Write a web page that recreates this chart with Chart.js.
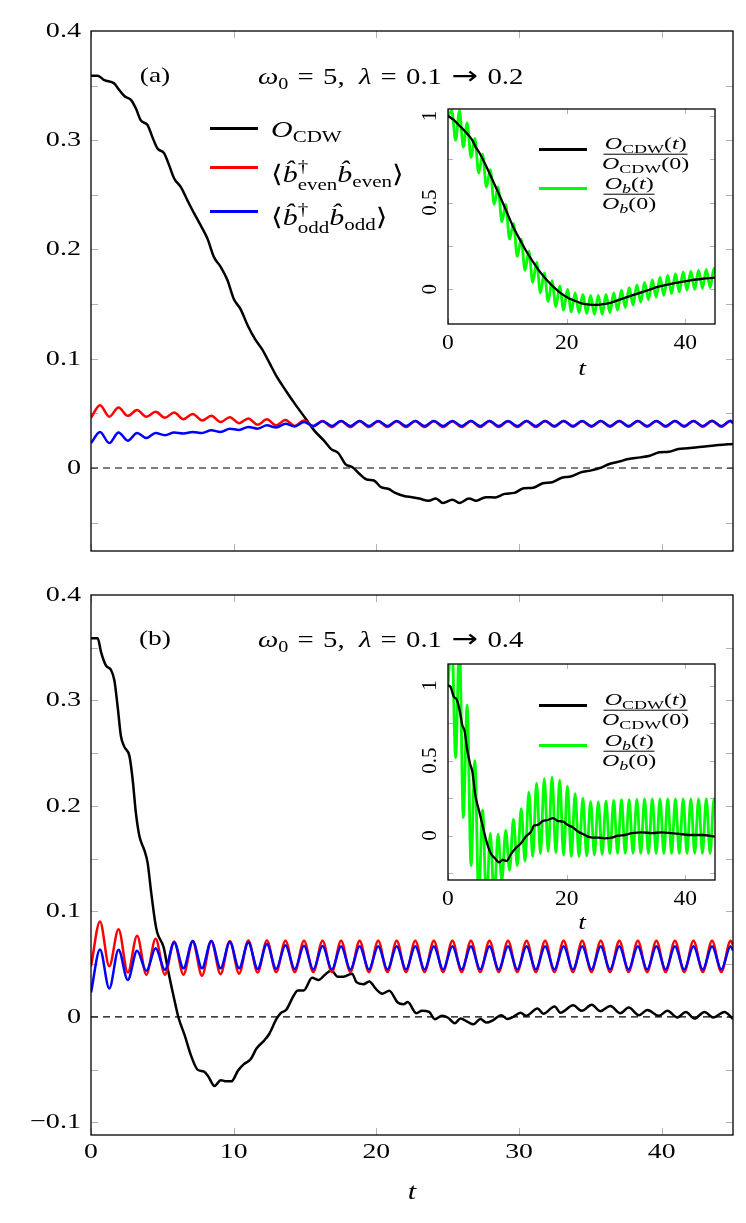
<!DOCTYPE html>
<html>
<head>
<meta charset="utf-8">
<script src="https://cdn.jsdelivr.net/npm/chart.js@4.4.0/dist/chart.umd.min.js"></script>
<style>
  html, body { margin: 0; padding: 0; background: #fff; }
  #page { position: relative; width: 746px; height: 1223px; overflow: hidden;
          font-family: "Liberation Serif", "DejaVu Serif", serif; color: #000; }
  canvas { position: absolute; }
  .txt { position: absolute; white-space: nowrap; line-height: 1;
         transform-origin: 0 50%; transform: translateY(-50%) scaleX(1.25); }
  .ctr { transform-origin: 50% 50%; transform: translate(-50%, -50%) scaleX(1.25); }
  sub { font-size: 0.7em; vertical-align: baseline; position: relative; top: 0.32em; line-height: 0; }
  .ss { display: inline-block; vertical-align: -0.5em; font-size: 0.7em; line-height: 1.05; }
  .ss > span { display: block; }
  .op { margin: 0 0.32em; }
  .arr { font-family: "DejaVu Sans", sans-serif; font-size: 1.1em; margin: 0 0.3em; }
  .key { position: absolute; height: 2.6px; }
  .fr { transform: translateY(-50%) scaleX(1.5); }
  .frac { display: inline-flex; flex-direction: column; align-items: center; font-size: 16px; line-height: 1.05; }
  .frac sub { font-size: 0.75em; }
  .frac .num { border-bottom: 1px solid #000; padding: 0 1px 1px; }
  .frac .den { padding-top: 1px; }
</style>
</head>
<body>
<div id="page">
  <canvas id="mainA" width="746" height="560" style="left:0;top:0"></canvas>
  <canvas id="mainB" width="746" height="663" style="left:0;top:560px"></canvas>
  <canvas id="insetA" width="305" height="280" style="left:420px;top:100px"></canvas>
  <canvas id="insetB" width="305" height="280" style="left:420px;top:655px"></canvas>

  <!-- panel (a) annotations -->
  <div class="txt ctr" style="left:155px;top:75px;font-size:22px">(a)</div>
  <div class="txt" style="left:258px;top:76px;font-size:23px"><i>ω</i><sub>0</sub><span class="op">=</span>5,&nbsp;&nbsp;<i>λ</i><span class="op">=</span>0.1<span class="arr">→</span>0.2</div>
  <div class="key" style="left:210px;top:127px;width:48px;background:#000"></div>
  <div class="key" style="left:210px;top:166px;width:48px;background:#f00"></div>
  <div class="key" style="left:210px;top:210px;width:48px;background:#00f"></div>
  <div class="txt" style="left:271px;top:129px;font-size:24px"><i>O</i><sub>CDW</sub></div>
  <div class="txt" style="left:271px;top:176px;font-size:24px">⟨<i>b̂</i><span class="ss"><span>†</span><span>even</span></span><i>b̂</i><sub>even</sub>⟩</div>
  <div class="txt" style="left:271px;top:219px;font-size:24px">⟨<i>b̂</i><span class="ss"><span>†</span><span>odd</span></span><i>b̂</i><sub>odd</sub>⟩</div>

  <div class="key" style="left:539px;top:148px;width:48px;background:#000"></div>
  <div class="key" style="left:539px;top:187px;width:48px;background:#0f0;height:3px"></div>
  <div class="txt fr" style="left:602px;top:154px"><span class="frac"><span class="num"><i>O</i><sub>CDW</sub>(<i>t</i>)</span><span class="den"><i>O</i><sub>CDW</sub>(0)</span></span></div>
  <div class="txt fr" style="left:602px;top:194px"><span class="frac"><span class="num"><i>O</i><sub><i>b</i></sub>(<i>t</i>)</span><span class="den"><i>O</i><sub><i>b</i></sub>(0)</span></span></div>
  <div class="txt ctr" style="left:582px;top:368px;font-size:22px"><i>t</i></div>

  <!-- panel (b) annotations -->
  <div class="txt ctr" style="left:155px;top:638px;font-size:22px">(b)</div>
  <div class="txt" style="left:258px;top:639px;font-size:23px"><i>ω</i><sub>0</sub><span class="op">=</span>5,&nbsp;&nbsp;<i>λ</i><span class="op">=</span>0.1<span class="arr">→</span>0.4</div>

  <div class="key" style="left:539px;top:704px;width:48px;background:#000"></div>
  <div class="key" style="left:539px;top:744px;width:48px;background:#0f0;height:3px"></div>
  <div class="txt fr" style="left:602px;top:710px"><span class="frac"><span class="num"><i>O</i><sub>CDW</sub>(<i>t</i>)</span><span class="den"><i>O</i><sub>CDW</sub>(0)</span></span></div>
  <div class="txt fr" style="left:602px;top:751px"><span class="frac"><span class="num"><i>O</i><sub><i>b</i></sub>(<i>t</i>)</span><span class="den"><i>O</i><sub><i>b</i></sub>(0)</span></span></div>
  <div class="txt ctr" style="left:582px;top:922px;font-size:22px"><i>t</i></div>

  <div class="txt ctr" style="left:412px;top:1191px;font-size:24px"><i>t</i></div>
</div>

<script>
// ---- shared time grid for the fast oscillations (peaks / troughs) ----
const tOsc = [0, 0.63, 1.28, 1.93, 2.58, 3.23, 3.88, 4.53, 5.18, 5.83,
  6.48, 7.13, 7.78, 8.43, 9.08, 9.73, 10.38, 11.03, 11.68, 12.33,
  12.98, 13.63, 14.28, 14.93, 15.58, 16.23, 16.88, 17.53, 18.18, 18.83,
  19.48, 20.13, 20.78, 21.43, 22.08, 22.73, 23.38, 24.03, 24.68, 25.33,
  25.98, 26.63, 27.28, 27.93, 28.58, 29.23, 29.88, 30.53, 31.18, 31.83,
  32.48, 33.13, 33.78, 34.43, 35.08, 35.73, 36.38, 37.03, 37.68, 38.33,
  38.98, 39.63, 40.28, 40.93, 41.58, 42.23, 42.88, 43.53, 44.18, 44.83,
  45];

// ---- panel (a): lambda 0.1 -> 0.2 ----
const cdwA_t = [0, 0.47, 0.93, 1.63, 1.98, 2.38, 2.8, 3.15, 3.5, 3.96,
  4.3, 4.66, 5.13, 5.48, 5.83, 6.3, 6.76, 7.23, 7.69, 8.16,
  8.62, 9.09, 9.56, 10.0, 10.5, 11.0, 11.5, 12.0, 12.5, 13.0,
  13.67, 14.33, 15.0, 15.67, 16.33, 16.83, 17.33, 17.83, 18.33, 18.83,
  19.33, 19.83, 20.33, 20.83, 21.33, 22.0, 22.5, 23.0, 23.67, 24.17,
  24.67, 25.33, 25.83, 26.5, 27.0, 27.67, 28.33, 29.0, 29.67, 30.33,
  31.0, 31.67, 32.33, 33.0, 33.67, 34.33, 35.0, 35.67, 36.33, 37.0,
  37.67, 38.5, 39.17, 39.83, 40.5, 41.17, 41.83, 42.5, 43.17, 44.0,
  45];
const cdwA = [0.359, 0.359, 0.355, 0.352, 0.346, 0.340, 0.337, 0.329, 0.318, 0.314,
  0.303, 0.2925, 0.288, 0.277, 0.265, 0.257, 0.245, 0.233, 0.222, 0.210,
  0.193, 0.184, 0.172, 0.155, 0.145, 0.130, 0.118, 0.1085, 0.0964, 0.084,
  0.0705, 0.058, 0.046, 0.034, 0.025, 0.0173, 0.0137, 0.0036, 0.0006, -0.0055,
  -0.0106, -0.0115, -0.0176, -0.019, -0.0228, -0.0258, -0.0267, -0.028, -0.030, -0.028,
  -0.032, -0.029, -0.032, -0.028, -0.030, -0.0267, -0.027, -0.0237, -0.0228, -0.0185,
  -0.018, -0.014, -0.013, -0.009, -0.0076, -0.004, -0.0024, 0, 0.0036, 0.0058,
  0.0082, 0.0097, 0.0112, 0.0143, 0.0149, 0.0173, 0.018, 0.019, 0.0198, 0.021,
  0.022];
const evenA = [0.046, 0.0574, 0.047, 0.0553, 0.0477, 0.053, 0.0468, 0.0514, 0.046, 0.0508,
  0.0447, 0.0495, 0.0435, 0.0477, 0.042, 0.0465, 0.041, 0.0453, 0.0395, 0.0445,
  0.039, 0.044, 0.0385, 0.0435, 0.038, 0.043, 0.0375, 0.043, 0.0375, 0.043,
  0.0375, 0.0428, 0.0375, 0.0428, 0.0375, 0.043, 0.0375, 0.043, 0.0375, 0.0428,
  0.0375, 0.043, 0.0375, 0.043, 0.0375, 0.0428, 0.0375, 0.043, 0.0375, 0.043,
  0.0378, 0.043, 0.0378, 0.0428, 0.0378, 0.043, 0.0378, 0.043, 0.0378, 0.043,
  0.0378, 0.043, 0.0378, 0.043, 0.0378, 0.043, 0.0378, 0.0432, 0.0378, 0.0432,
  0.041];
const oddA = [0.0228, 0.033, 0.0228, 0.0325, 0.025, 0.032, 0.0274, 0.032, 0.030, 0.0325,
  0.0316, 0.033, 0.032, 0.0345, 0.033, 0.036, 0.0348, 0.0375, 0.036, 0.039,
  0.037, 0.0405, 0.038, 0.042, 0.0385, 0.0428, 0.0385, 0.043, 0.0385, 0.043,
  0.0385, 0.043, 0.0385, 0.043, 0.0385, 0.043, 0.0385, 0.043, 0.0385, 0.043,
  0.0385, 0.043, 0.0385, 0.043, 0.0385, 0.043, 0.0385, 0.043, 0.0385, 0.043,
  0.0385, 0.043, 0.0385, 0.043, 0.0385, 0.043, 0.0385, 0.043, 0.0385, 0.043,
  0.0385, 0.043, 0.0385, 0.043, 0.0385, 0.043, 0.0385, 0.043, 0.0385, 0.043,
  0.041];
// inset (a): normalised order parameters
const normCdwA_t = [0, 0.96, 1.8, 2.66, 3.5, 4.07, 4.64, 5.5, 6.6, 7.75,
  8.9, 10.0, 11.1, 12.3, 13.4, 14.5, 15.7, 16.8, 17.9, 19.1,
  20.2, 21.3, 22.5, 23.6, 24.7, 25.9, 27.0, 28.7, 30.4, 32.1,
  33.8, 35.5, 37.2, 38.9, 40.6, 42.3, 45];
const normCdwA = [1.0, 0.977, 0.948, 0.919, 0.887, 0.862, 0.823, 0.775, 0.698, 0.612,
  0.525, 0.438, 0.352, 0.275, 0.208, 0.15, 0.092, 0.048, 0.01, -0.025,
  -0.048, -0.065, -0.081, -0.087, -0.09, -0.087, -0.081, -0.062, -0.042, -0.023,
  -0.004, 0.015, 0.029, 0.04, 0.05, 0.058, 0.067];
const normBA = [1.0, 1.03, 0.86, 1.03, 0.82, 0.96, 0.76, 0.87, 0.67, 0.78,
  0.59, 0.69, 0.49, 0.59, 0.39, 0.49, 0.29, 0.38, 0.19, 0.29,
  0.11, 0.22, 0.04, 0.155, -0.02, 0.095, -0.07, 0.05, -0.10, 0.02,
  -0.12, 0.0, -0.13, -0.02, -0.135, -0.03, -0.14, -0.035, -0.145, -0.035,
  -0.145, -0.03, -0.135, -0.02, -0.12, -0.005, -0.105, 0.01, -0.09, 0.025,
  -0.075, 0.04, -0.06, 0.055, -0.045, 0.07, -0.035, 0.08, -0.025, 0.09,
  -0.015, 0.10, -0.005, 0.105, 0.0, 0.11, 0.005, 0.115, 0.01, 0.12,
  0.09];

// ---- panel (b): lambda 0.1 -> 0.4 ----
const cdwB_t = [0, 0.47, 0.7, 1.05, 1.4, 1.64, 1.87, 2.1, 2.34, 2.7,
  2.92, 3.15, 3.4, 3.74, 3.97, 4.2, 4.5, 4.64, 5.09, 5.39,
  5.83, 6.13, 6.58, 7.02, 7.47, 7.92, 8.2, 8.66, 9.1, 9.4,
  9.85, 10.3, 10.7, 11.2, 11.6, 12.1, 12.5, 13.0, 13.3, 13.7,
  14.2, 14.5, 14.9, 15.5, 15.95, 16.4, 16.85, 17.3, 17.7, 18.3,
  18.6, 19.1, 19.5, 20.0, 20.4, 20.9, 21.5, 21.9, 22.2, 22.8,
  23.2, 23.7, 24.1, 24.6, 25.0, 25.5, 25.9, 26.4, 26.8, 27.3,
  27.7, 28.2, 28.75, 29.2, 29.6, 30.1, 30.5, 31.3, 31.7, 32.5,
  32.9, 33.8, 34.4, 35.1, 35.7, 36.4, 37.1, 37.7, 38.4, 39.0,
  39.8, 40.4, 41.1, 41.7, 42.3, 43.0, 43.6, 44.4, 45];
const cdwB = [0.359, 0.359, 0.346, 0.333, 0.329, 0.319, 0.294, 0.266, 0.256, 0.247,
  0.225, 0.193, 0.171, 0.158, 0.146, 0.120, 0.0896, 0.080, 0.066, 0.045,
  0.017, -0.0006, -0.018, -0.037, -0.050, -0.052, -0.056, -0.0655, -0.060, -0.061,
  -0.061, -0.051, -0.045, -0.040, -0.030, -0.023, -0.016, -0.002, 0.0035, 0.007,
  0.020, 0.025, 0.025, 0.037, 0.035, 0.040, 0.044, 0.038, 0.038, 0.041,
  0.033, 0.031, 0.0335, 0.026, 0.022, 0.0247, 0.0136, 0.012, 0.014, 0.0035,
  0.0057, 0.0047, -0.0022, 0.001, -0.0006, -0.006, -0.0016, -0.0047, -0.007, -0.002,
  -0.0054, -0.003, 0.0016, -0.002, 0.0, 0.004, 0.001, 0.008, 0.003, 0.0098,
  0.004, 0.011, 0.0057, 0.0114, 0.0054, 0.0104, 0.0035, 0.0089, 0.0016, 0.0066,
  0.001, 0.0057, -0.0006, 0.0047, -0.0016, 0.0047, -0.0006, 0.0047, -0.002];
const evenB = [0.048, 0.0905, 0.048, 0.083, 0.042, 0.077, 0.040, 0.074, 0.040, 0.0715,
  0.040, 0.0715, 0.039, 0.072, 0.0405, 0.072, 0.041, 0.0725, 0.042, 0.0725,
  0.0425, 0.0722, 0.0425, 0.0722, 0.0425, 0.0722, 0.0425, 0.0722, 0.0425, 0.0722,
  0.0425, 0.0722, 0.0425, 0.0722, 0.0425, 0.0722, 0.0425, 0.0722, 0.0425, 0.0722,
  0.0425, 0.0722, 0.0425, 0.0722, 0.0425, 0.0722, 0.0425, 0.0722, 0.0425, 0.0722,
  0.0425, 0.0722, 0.0425, 0.0722, 0.0425, 0.0722, 0.0425, 0.0722, 0.0425, 0.0722,
  0.0425, 0.0722, 0.0425, 0.0722, 0.0425, 0.0722, 0.0425, 0.0722, 0.0425, 0.0722,
  0.068];
const oddB = [0.023, 0.064, 0.027, 0.0636, 0.035, 0.0627, 0.0437, 0.065, 0.0446, 0.0706,
  0.046, 0.072, 0.046, 0.072, 0.046, 0.071, 0.046, 0.0706, 0.0455, 0.069,
  0.0455, 0.068, 0.0452, 0.0675, 0.045, 0.0672, 0.045, 0.067, 0.045, 0.067,
  0.045, 0.067, 0.045, 0.067, 0.045, 0.067, 0.045, 0.067, 0.045, 0.067,
  0.045, 0.067, 0.045, 0.067, 0.045, 0.067, 0.045, 0.067, 0.045, 0.067,
  0.045, 0.067, 0.045, 0.067, 0.045, 0.067, 0.045, 0.067, 0.045, 0.067,
  0.045, 0.067, 0.045, 0.067, 0.045, 0.067, 0.045, 0.067, 0.045, 0.067,
  0.063];
const normCdwB_t = [0, 0.4, 0.96, 1.5, 2.0, 2.4, 2.8, 3.2, 3.7, 4.1,
  4.6, 5.2, 5.8, 6.5, 7.2, 7.9, 8.6, 9.2, 9.9, 10.6,
  11.4, 12.3, 13.1, 14.0, 14.5, 15.1, 16.0, 16.8, 17.7, 18.5,
  19.4, 20.2, 21.1, 21.9, 22.8, 23.6, 24.4, 25.3, 26.4, 27.6,
  28.7, 29.8, 31.0, 32.7, 34.4, 36.0, 37.7, 39.4, 41.1, 42.8,
  45];
const normCdwB = [1.0, 0.993, 0.927, 0.904, 0.827, 0.738, 0.698, 0.582, 0.482, 0.427,
  0.27, 0.171, 0.071, -0.04, -0.118, -0.151, -0.178, -0.162, -0.169, -0.124,
  -0.084, -0.051, -0.007, 0.027, 0.067, 0.071, 0.098, 0.104, 0.116, 0.098,
  0.093, 0.071, 0.053, 0.027, 0.009, -0.007, -0.013, -0.013, -0.018, -0.013,
  0.0, 0.004, 0.016, 0.022, 0.016, 0.022, 0.016, 0.009, 0.004, 0.004,
  -0.007];
const normBB = [1.0, 1.35, 0.52, 1.3, 0.12, 0.87, -0.2, 0.5, -0.42, 0.17,
  -0.45, 0.015, -0.42, 0.01, -0.30, 0.035, -0.23, 0.11, -0.20, 0.18,
  -0.17, 0.29, -0.14, 0.35, -0.12, 0.38, -0.107, 0.39, -0.115, 0.37,
  -0.13, 0.33, -0.14, 0.28, -0.14, 0.25, -0.135, 0.227, -0.13, 0.225,
  -0.125, 0.23, -0.12, 0.235, -0.118, 0.24, -0.118, 0.24, -0.118, 0.242,
  -0.118, 0.245, -0.118, 0.245, -0.118, 0.245, -0.118, 0.245, -0.118, 0.245,
  -0.118, 0.245, -0.118, 0.245, -0.118, 0.245, -0.118, 0.245, -0.118, 0.245,
  0.22];

// ---- axes ----
const zeroT = [0, 45];
const zeroV = [0, 0];
const mainXTicks = [0, 10, 20, 30, 40];
const mainYLabelsA = [0.4, 0.3, 0.2, 0.1, 0];
const mainYLabelsB = [0.4, 0.3, 0.2, 0.1, 0, -0.1];
const mainYMinorA = [-0.05, 0, 0.05, 0.1, 0.15, 0.2, 0.25, 0.3, 0.35];
const mainYMinorB = [-0.1, -0.05, 0, 0.05, 0.1, 0.15, 0.2, 0.25, 0.3, 0.35];
const insetXTicks = [0, 20, 40];
const insetYTicksA = [0, 0.25, 0.5, 0.75, 1];
const insetYTicksB = [-0.25, 0, 0.25, 0.5, 0.75, 1];
const insetYLabels = [0, 0.5, 1];

const SERIF = "'Liberation Serif', 'DejaVu Serif', serif";

function pts(ts, vs) { return ts.map((t, i) => ({ x: t, y: vs[i] })); }
function fmt(v) { return v < 0 ? '\u2212' + String(-v) : String(v); }

function line(data, color, width, extra) {
  return Object.assign({ data, borderColor: color, borderWidth: width, pointRadius: 0,
    fill: false, cubicInterpolationMode: 'monotone', borderJoinStyle: 'round' }, extra || {});
}

// inward grey ticks on all four sides, black frame, and the (slightly widened) tick labels
const frameTicks = {
  id: 'frameTicks',
  beforeDraw(chart, args, o) {
    if (!o.fill) return;
    const a = chart.chartArea, ctx = chart.ctx;
    ctx.save(); ctx.fillStyle = '#fff';
    ctx.fillRect(a.left, a.top, a.right - a.left, a.bottom - a.top);
    ctx.restore();
  },
  beforeDatasetsDraw(chart, args, o) {
    const { ctx, chartArea: a, scales: { x, y } } = chart;
    const len = o.len || 7;
    ctx.save();
    ctx.strokeStyle = '#b4b4b4'; ctx.lineWidth = 1;
    ctx.beginPath();
    (o.xTicks || []).forEach(v => {
      const px = Math.round(x.getPixelForValue(v)) + 0.5;
      ctx.moveTo(px, a.bottom); ctx.lineTo(px, a.bottom - len);
      ctx.moveTo(px, a.top); ctx.lineTo(px, a.top + len);
    });
    (o.yTicks || []).forEach(v => {
      const py = Math.round(y.getPixelForValue(v)) + 0.5;
      ctx.moveTo(a.left, py); ctx.lineTo(a.left + len, py);
      ctx.moveTo(a.right, py); ctx.lineTo(a.right - len, py);
    });
    ctx.stroke();
    ctx.restore();
  },
  afterDraw(chart, args, o) {
    const { ctx, chartArea: a, scales: { x, y } } = chart;
    ctx.save();
    ctx.strokeStyle = '#000'; ctx.lineWidth = 1.3;
    ctx.strokeRect(a.left, a.top, a.right - a.left, a.bottom - a.top);
    ctx.fillStyle = '#000';
    ctx.textBaseline = 'middle';
    if (o.xLabels) {
      const L = o.xLabels;
      ctx.font = L.font; ctx.textAlign = 'center';
      L.vals.forEach(v => {
        ctx.save();
        ctx.translate(x.getPixelForValue(v), a.bottom + L.dy);
        ctx.scale(L.sx, 1);
        ctx.fillText(fmt(v), 0, 0);
        ctx.restore();
      });
    }
    if (o.yLabels) {
      const L = o.yLabels;
      ctx.font = L.font; ctx.textAlign = 'right';
      L.vals.forEach(v => {
        ctx.save();
        ctx.translate(L.rx, y.getPixelForValue(v));
        ctx.scale(L.sx, 1);
        ctx.fillText(fmt(v), 0, 0);
        ctx.restore();
      });
    }
    if (o.rotLabels) {
      const L = o.rotLabels;
      ctx.font = L.font; ctx.textAlign = 'center';
      L.vals.forEach(v => {
        ctx.save();
        ctx.translate(L.cx, y.getPixelForValue(v));
        ctx.rotate(-Math.PI / 2);
        ctx.fillText(fmt(v), 0, 0);
        ctx.restore();
      });
    }
    ctx.restore();
  }
};

const hiddenAxis = (min, max, fitFn) => ({
  type: 'linear', min, max,
  grid: { display: false, drawTicks: false }, border: { display: false },
  ticks: { display: false }, afterFit: fitFn
});

function mainChart(id, cfg) {
  const datasets = [
    line(pts(tOsc, cfg.odd), '#0000ff', 2.5),
    line(pts(tOsc, cfg.even), '#ff0000', 2.5),
    line(pts(cfg.cdwT, cfg.cdw), '#000000', 2.5),
    line(pts(zeroT, zeroV), '#000000', 1.1, { borderDash: [7, 5], cubicInterpolationMode: 'default', tension: 0 })
  ];
  return new Chart(document.getElementById(id), {
    type: 'line',
    data: { datasets },
    options: {
      responsive: false, animation: false, events: [],
      layout: { padding: cfg.padding },
      plugins: { legend: { display: false }, tooltip: { enabled: false },
        frameTicks: { xTicks: mainXTicks, yTicks: cfg.yMinor, len: 7,
          xLabels: cfg.showX ? { vals: mainXTicks, dy: 17, sx: 1.26, font: '22px ' + SERIF } : null,
          yLabels: { vals: cfg.yLabels, rx: 81, sx: 1.28, font: '22px ' + SERIF } } },
      scales: {
        x: hiddenAxis(0, 45, s => { s.height = cfg.xHeight; }),
        y: hiddenAxis(cfg.ymin, 0.4, s => { s.width = 91; })
      }
    },
    plugins: [frameTicks]
  });
}

function insetChart(id, cfg) {
  const datasets = [
    line(pts(cfg.cdwT, cfg.cdw), '#000000', 2.3),
    line(pts(tOsc, cfg.nb), '#00ff00', 2.8)
  ];
  return new Chart(document.getElementById(id), {
    type: 'line',
    data: { datasets },
    options: {
      responsive: false, animation: false, events: [],
      layout: { padding: { top: 9, right: 10, left: 0, bottom: 0 } },
      plugins: { legend: { display: false }, tooltip: { enabled: false },
        frameTicks: { fill: true, xTicks: insetXTicks, yTicks: cfg.yTicks, len: 5,
          xLabels: { vals: insetXTicks, dy: 19, sx: 1.12, font: '21px ' + SERIF },
          rotLabels: { vals: insetYLabels, cx: 10, font: '21px ' + SERIF } } },
      scales: {
        x: hiddenAxis(0, 45, s => { s.height = cfg.xHeight; }),
        y: hiddenAxis(cfg.ymin, cfg.ymax, s => { s.width = 28; })
      }
    },
    plugins: [frameTicks]
  });
}

mainChart('mainA', { odd: oddA, even: evenA, cdwT: cdwA_t, cdw: cdwA, ymin: -0.076,
  yLabels: mainYLabelsA, yMinor: mainYMinorA, showX: false, xHeight: 0,
  padding: { top: 31, right: 13, bottom: 9, left: 0 } });
mainChart('mainB', { odd: oddB, even: evenB, cdwT: cdwB_t, cdw: cdwB, ymin: -0.112,
  yLabels: mainYLabelsB, yMinor: mainYMinorB, showX: true, xHeight: 88,
  padding: { top: 35, right: 13, bottom: 0, left: 0 } });
insetChart('insetA', { cdwT: normCdwA_t, cdw: normCdwA, nb: normBA, ymin: -0.2, ymax: 1.04,
  yTicks: insetYTicksA, xHeight: 56 });
insetChart('insetB', { cdwT: normCdwB_t, cdw: normCdwB, nb: normBB, ymin: -0.296, ymax: 1.144,
  yTicks: insetYTicksB, xHeight: 55 });
</script>
</body>
</html>
